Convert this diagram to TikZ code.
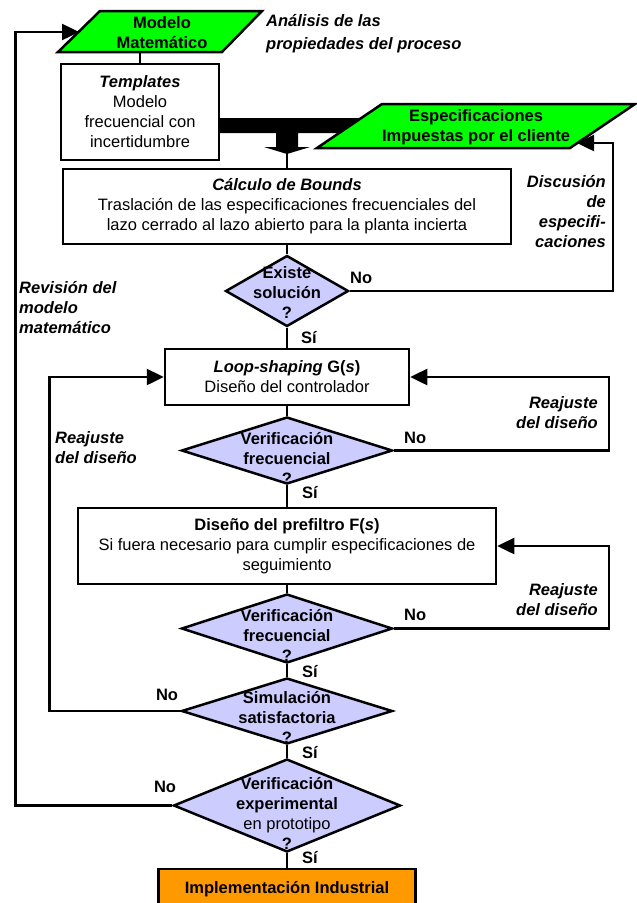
\documentclass[tikz,border=0pt]{standalone}
\usepackage{fontspec}
\setmainfont{Liberation Sans}
\usetikzlibrary{shapes.geometric,arrows.meta}
\definecolor{paragreen}{HTML}{00FF00}
\definecolor{lav}{HTML}{CCCCFF}
\definecolor{orng}{HTML}{FF9900}
\begin{document}
\begin{tikzpicture}[x=1pt,y=-1pt,
  every node/.style={font=\fontsize{16.5}{20}\selectfont, inner sep=0pt},
  box/.style={draw, line width=2.5pt, rectangle, align=center, fill=white},
  dia/.style={draw, line width=2.5pt, diamond, fill=lav},
  dtext/.style={align=center, font=\fontsize{16.5}{20}\selectfont\bfseries},
  para/.style={draw, line width=2.5pt, fill=paragreen, line join=miter},
  conn/.style={line width=2.5pt},
  arr/.style={conn, -{Triangle[length=17pt,width=16pt]}},
  lbl/.style={font=\fontsize{16.5}{20}\selectfont\bfseries\itshape},
  yn/.style={font=\fontsize{16.5}{20}\selectfont\bfseries},
]
\useasboundingbox (0,0) rectangle (637,903);

% thick bar with down arrow
\fill (218,118) -- (370,118) -- (370,133) -- (298,133) -- (298,147) -- (310,147)
      -- (287,154) -- (264,147) -- (276,147) -- (276,133) -- (218,133) -- cycle;
\coordinate (bartip) at (287,153);

% parallelograms
\draw[para] (100,11) -- (262,11) -- (222,52) -- (58,52) -- cycle;
\node[yn, align=center] (mod) at (162,32.5) {Modelo\\Matemático};
\coordinate (modB) at (140,52);
\coordinate (modL) at (79,32);

\draw[para] (382,104) -- (635,104) -- (570,148) -- (317,148) -- cycle;
\node[yn, align=center] (esp) at (476,127) {Especificaciones\\Impuestas por el cliente};
\coordinate (espR) at (577,143);

% boxes
\node[box, minimum width=158pt, minimum height=96pt] (tpl) at (140,112)
  {\textbf{\textit{Templates}}\\Modelo\\frecuencial con\\incertidumbre};
\node[box, minimum width=448pt, minimum height=75pt] (calc) at (287,206.5)
  {\textbf{\textit{Cálculo de Bounds}}\\Traslación de las especificaciones frecuenciales del\\lazo cerrado al lazo abierto para la planta incierta};
\node[box, minimum width=244pt, minimum height=56pt] (loop) at (287,377)
  {\textbf{\textit{Loop-shaping} G(\textit{s})}\\Diseño del controlador};
\node[box, minimum width=418pt, minimum height=76pt] (pre) at (287,546)
  {\textbf{Diseño del prefiltro F(\textit{s})}\\Si fuera necesario para cumplir especificaciones de\\seguimiento};
\node[box, fill=orng, minimum width=257pt, minimum height=41pt] (impl) at (287,889.5)
  {\textbf{Implementación Industrial}};

% diamonds
\node[dia, minimum width=123pt, minimum height=71pt] (ex) at (287,291) {};
\node[dtext] (ext) at (287,293) {Existe\\solución\\?};
\node[dia, minimum width=211pt, minimum height=67pt] (vf1) at (287,450.5) {};
\node[dtext] (vf1t) at (287,458) {Verificación\\frecuencial\\?};
\node[dia, minimum width=211pt, minimum height=69pt] (vf2) at (287,628.5) {};
\node[dtext] (vf2t) at (287,635) {Verificación\\frecuencial\\?};
\node[dia, minimum width=211pt, minimum height=66pt] (sim) at (287,711) {};
\node[dtext] (simt) at (287,717) {Simulación\\satisfactoria\\?};
\node[dia, minimum width=227pt, minimum height=93pt] (ve) at (287,805.5) {};
\node[dtext] (vet) at (287,813) {Verificación\\experimental\\\mdseries en prototipo\\?};

% connectors
\draw[conn] (modB) -- (tpl.north);
\draw[arr] (ve.west) -- ++(-157,0) |- (modL);
\draw[conn] (bartip) -- (calc.north);
\draw[conn] (calc.south) -- (ex.north);
\draw[arr] (ex.east) -- ++(263,0) |- (espR);
\draw[conn] (ex.south) -- (loop.north);
\draw[conn] (loop.south) -- (vf1.north);
\draw[arr] (vf1.east) -- ++(215,0) |- (loop.east);
\draw[conn] (vf1.south) -- (pre.north);
\draw[conn] (pre.south) -- (vf2.north);
\draw[arr] (vf2.east) -- ++(215,0) |- (pre.east);
\draw[conn] (vf2.south) -- (sim.north);
\draw[arr] (sim.west) -- ++(-131,0) |- (loop.west);
\draw[conn] (sim.south) -- (ve.north);
\draw[conn] (ve.south) -- (impl.north);

% yes / no labels
\node[yn, anchor=west] (no1) at (350,278) {No};
\node[yn, anchor=west] (si1) at (301,338) {Sí};
\node[yn, anchor=west] (no2) at (404,438) {No};
\node[yn, anchor=west] (si2) at (302,493) {Sí};
\node[yn, anchor=west] (no3) at (404,615) {No};
\node[yn, anchor=west] (si3) at (302,672) {Sí};
\node[yn] (no4) at (167,695) {No};
\node[yn, anchor=west] (si4) at (302,753) {Sí};
\node[yn] (no5) at (165,787) {No};
\node[yn, anchor=west] (si5) at (302,858) {Sí};

% side labels
\node[lbl, anchor=west, align=left, font=\fontsize{16.5}{23}\selectfont\bfseries\itshape] (ana) at (266,33.5) {Análisis de las\\propiedades del proceso};
\node[lbl, anchor=east, align=right] (disc) at (606,212) {Discusión\\de\\especifi-\\caciones};
\node[lbl, anchor=west, align=left] (rev) at (19,307.5) {Revisión del\\modelo\\matemático};
\node[lbl, anchor=east, align=right] (re1) at (598,412.5) {Reajuste\\del diseño};
\node[lbl, anchor=west, align=left] (re2) at (55,447.5) {Reajuste\\del diseño};
\node[lbl, anchor=east, align=right] (re3) at (598,600) {Reajuste\\del diseño};
\end{tikzpicture}
\end{document}
